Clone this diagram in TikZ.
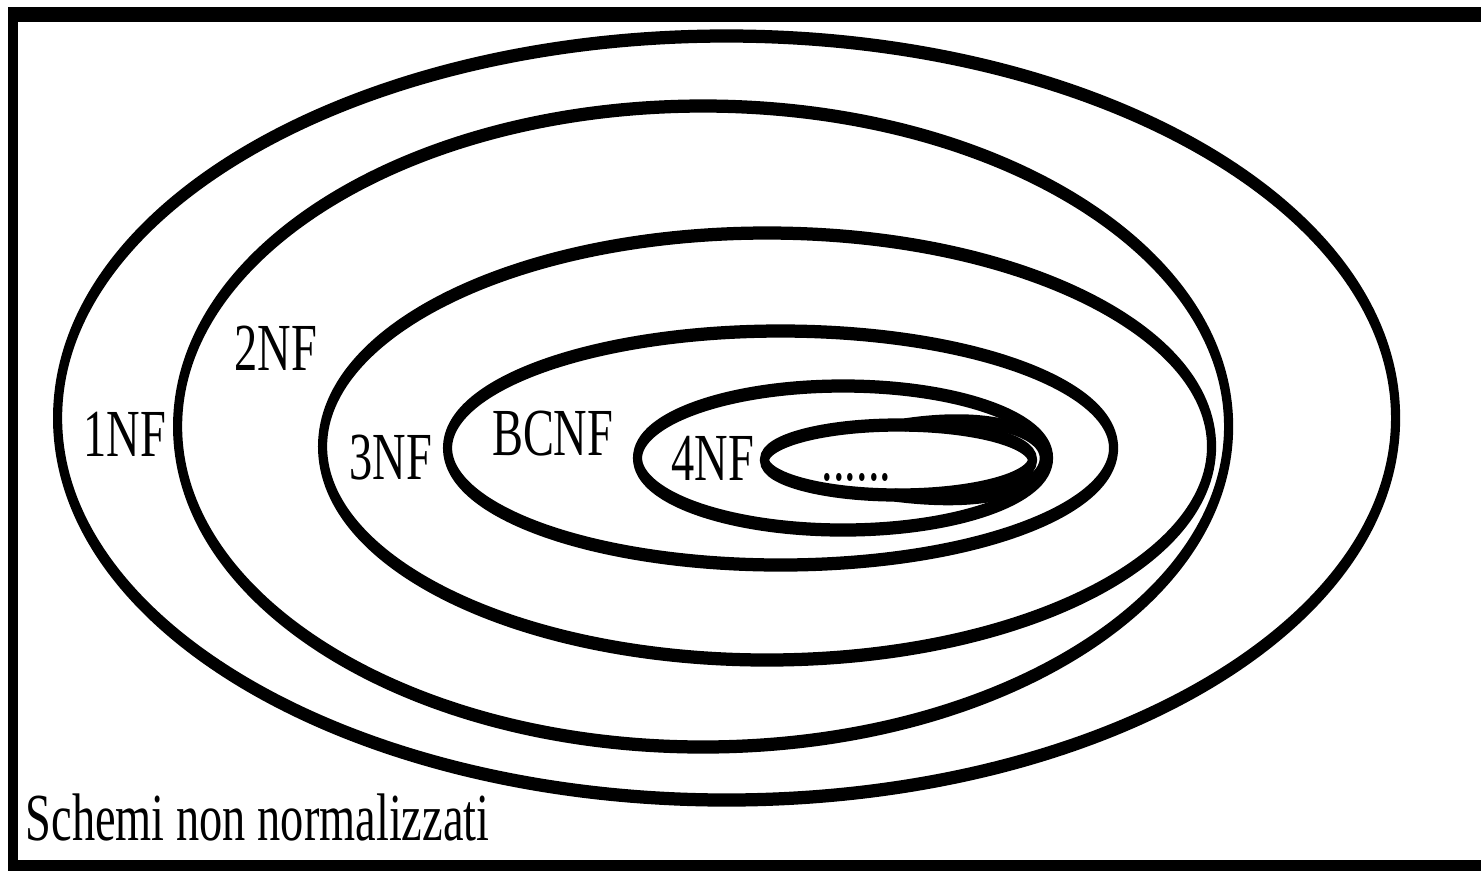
\documentclass[tikz,border=0pt]{standalone}
\usepackage{fontspec}
\setmainfont{Liberation Serif}
\begin{document}
\begin{tikzpicture}
\fill[white] (0,0) rectangle (14.81,-8.71);
\useasboundingbox (0,0) rectangle (14.81,-8.71);
\coordinate (tl) at (0.08,-0.145);
\coordinate (tr) at (14.81,-0.145);
\coordinate (lt) at (0.13,-0.07);
\coordinate (lb) at (0.13,-8.71);
\coordinate (bl) at (0.08,-8.655);
\coordinate (br) at (14.81,-8.655);
\draw[line width=0.15cm] (tl) -- (tr);
\draw[line width=0.10cm] (lt) -- (lb);
\draw[line width=0.11cm] (bl) -- (br);
\begin{scope}[transform canvas={yscale=1.45}, x=0.01cm, y=-0.0068966cm,
  ring/.style={draw=black, line width=2.6pt},
  lbl/.style={inner sep=0pt, font=\fontsize{13.2}{15}\selectfont}]
  \draw[ring] (727,418) ellipse [x radius=6.69cm, y radius=2.6345cm];
  \draw[ring] (703.5,426.5) ellipse [x radius=5.255cm, y radius=2.2103cm];
  \draw[ring] (767.5,446.5) ellipse [x radius=4.445cm, y radius=1.4724cm];
  \draw[ring] (781,448) ellipse [x radius=3.33cm, y radius=0.8069cm];
  \draw[ring] (843.5,458) ellipse [x radius=2.055cm, y radius=0.4966cm];
  \draw[ring] (899,460) ellipse [x radius=1.34cm, y radius=0.2414cm];
  \draw[ring] (905,425) .. controls (985,413) and (1045,428) .. (1045,458)
              .. controls (1045,488) and (990,507) .. (895,495);
  \node[lbl] (l1) at (125,434) {1NF};
  \node[lbl] (l2) at (276,348) {2NF};
  \node[lbl] (l3) at (391,458) {3NF};
  \node[lbl] (lbc) at (553,434) {BCNF};
  \node[lbl] (l4) at (713,458) {4NF};
  \node[lbl] (ld) at (857,477) {......};
  \node[lbl, anchor=west] (ls) at (25,817) {Schemi non normalizzati};
\end{scope}
\end{tikzpicture}
\end{document}
